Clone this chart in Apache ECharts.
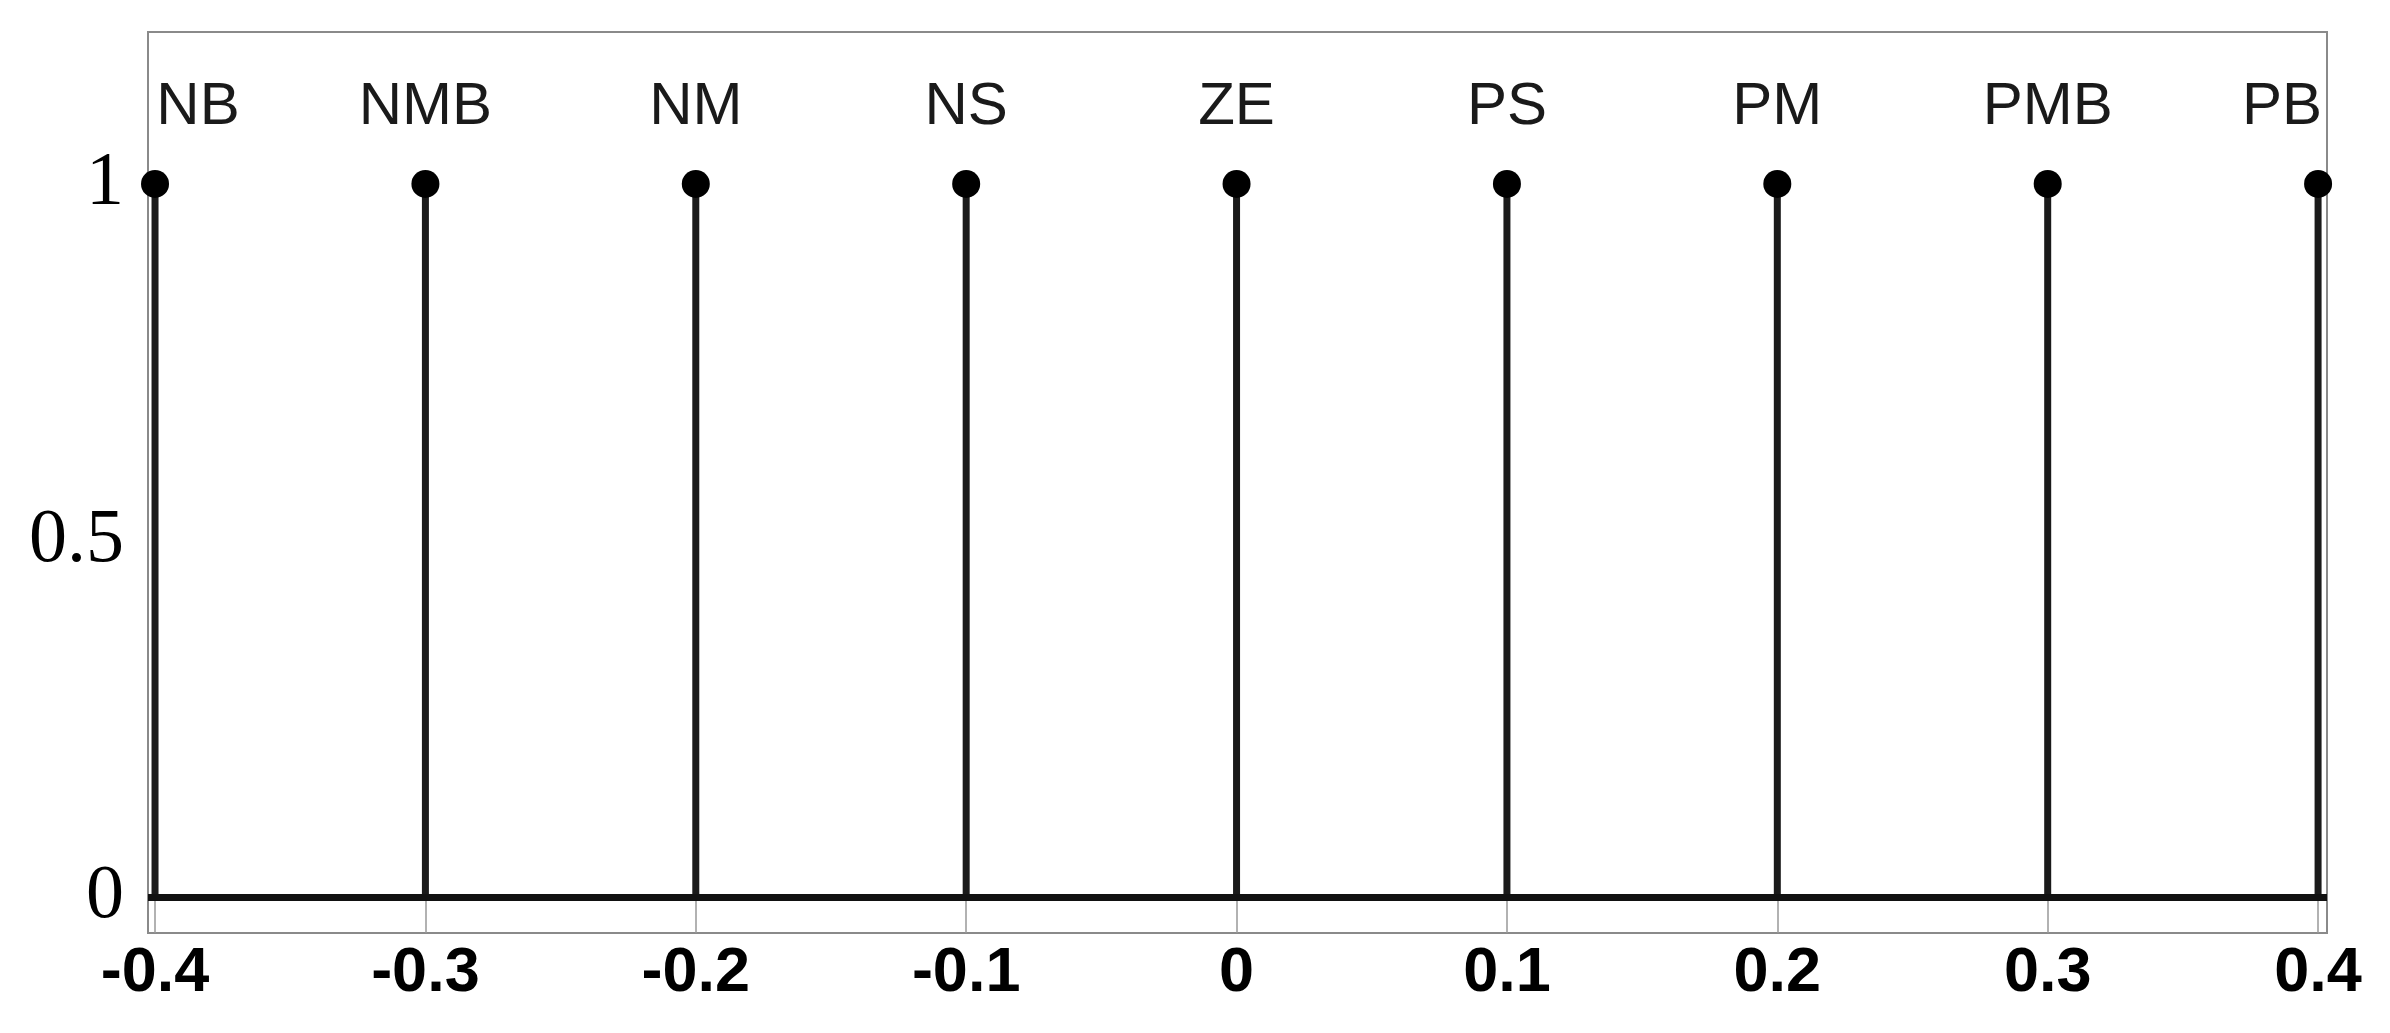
<!DOCTYPE html>
<html>
<head>
<meta charset="utf-8">
<style>html,body{margin:0;padding:0;background:#fff}#c{width:2390px;height:1033px}</style>
<script src="https://cdn.jsdelivr.net/npm/echarts@6/dist/echarts.min.js"></script>
</head>
<body>
<div id="c"></div>
<script>
// Data
const setNames = ['NB', 'NMB', 'NM', 'NS', 'ZE', 'PS', 'PM', 'PMB', 'PB'];
const setCenters = [-0.4, -0.3, -0.2, -0.1, 0, 0.1, 0.2, 0.3, 0.4];
const memberships = [1, 1, 1, 1, 1, 1, 1, 1, 1];
const xTicks = [-0.4, -0.3, -0.2, -0.1, 0, 0.1, 0.2, 0.3, 0.4];
const yTicks = [0, 0.5, 1];

const chart = echarts.init(document.getElementById('c'));
const pts = setCenters.map((x, i) => [x, memberships[i]]);
const labelOffsets = setNames.map((n, i) => i === 0 ? [43, 0] : (i === setNames.length - 1 ? [-36, 0] : [0, 0]));
const X_MIN = -0.4026, X_MAX = 0.4033;

chart.setOption({
  animation: false,
  backgroundColor: '#fff',
  grid: {left: 148, right: 63, top: 32, bottom: 100, show: true, borderColor: '#8a8a8a', borderWidth: 2},
  xAxis: [{
    type: 'value', position: 'bottom', min: X_MIN, max: X_MAX,
    splitLine: {show: false},
    axisLine: {show: true, onZero: false, lineStyle: {color: '#8a8a8a', width: 2}},
    axisTick: {show: true, inside: true, length: 32, customValues: xTicks, lineStyle: {color: '#999', width: 1.5}},
    axisLabel: {customValues: xTicks, formatter: v => String(Math.round(v * 10) / 10),
      fontFamily: 'Liberation Sans', fontWeight: 'bold', fontSize: 63, color: '#000', margin: 9}
  }, {
    type: 'value', position: 'top', min: X_MIN, max: X_MAX,
    splitLine: {show: false},
    axisLine: {show: false},
    axisTick: {show: true, inside: true, length: 22, customValues: xTicks, lineStyle: {color: '#999', width: 1.5}},
    axisLabel: {show: false}
  }],
  yAxis: {
    type: 'value', min: -0.05, max: 1.213,
    splitLine: {show: false},
    axisLine: {show: true, onZero: false, lineStyle: {color: '#8a8a8a', width: 2}},
    axisTick: {show: false},
    axisLabel: {customValues: yTicks, formatter: v => String(v),
      fontFamily: 'Liberation Serif', fontSize: 76, color: '#000', margin: 24}
  },
  series: [{
    type: 'bar', xAxisIndex: 0, data: pts, barWidth: 7,
    itemStyle: {color: '#1a1a1a'}, silent: true,
    markLine: {
      silent: true, symbol: 'none', label: {show: false},
      lineStyle: {color: '#111', width: 7, type: 'solid'},
      data: [{yAxis: 0}]
    }
  }, {
    type: 'scatter', xAxisIndex: 0, symbol: 'circle', symbolSize: 28,
    itemStyle: {color: '#000', opacity: 1},
    data: pts.map((p, i) => ({value: p, name: setNames[i],
      label: {offset: labelOffsets[i]}})),
    label: {show: true, position: 'top', distance: 32, formatter: p => p.name,
      fontFamily: 'Liberation Sans', fontSize: 60, color: '#1a1a1a'}
  }]
});
</script>
</body>
</html>
